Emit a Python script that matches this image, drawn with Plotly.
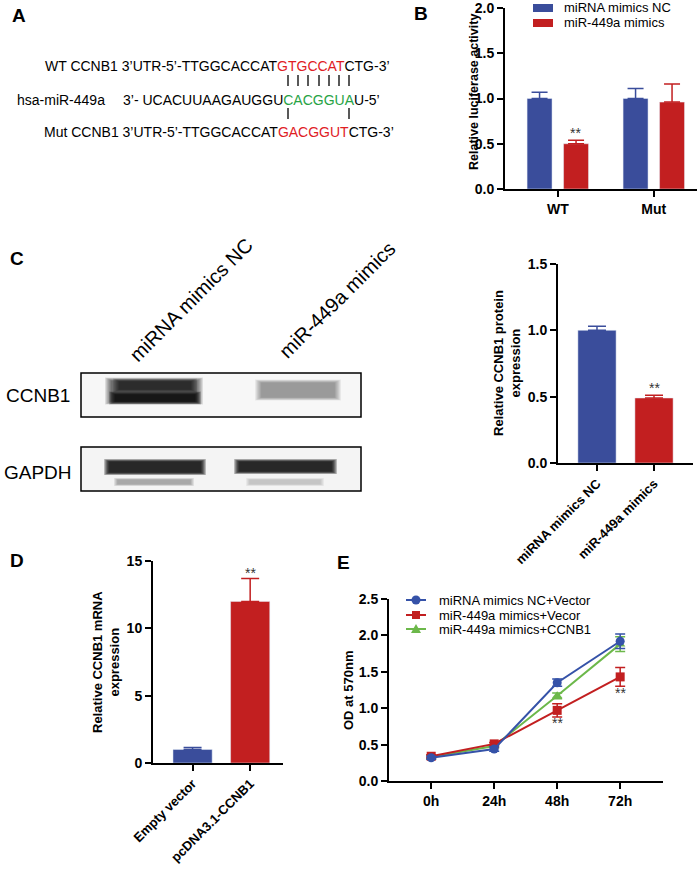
import plotly.graph_objects as go

W, H = 699, 874

# ---- data ----
luc_groups = ["WT", "Mut"]
luc_nc = [1.0, 1.0]
luc_nc_err = [0.07, 0.11]
luc_mimic = [0.50, 0.96]
luc_mimic_err = [0.04, 0.20]

prot_labels = ["miRNA mimics NC", "miR-449a mimics"]
prot_vals = [1.0, 0.49]
prot_err = [0.03, 0.02]

mrna_labels = ["Empty vector", "pcDNA3.1-CCNB1"]
mrna_vals = [1.0, 12.0]
mrna_err = [0.15, 1.7]

time_labels = ["0h", "24h", "48h", "72h"]
od_nc_vector = [0.32, 0.44, 1.35, 1.92]
od_nc_vector_err = [0.02, 0.03, 0.05, 0.10]
od_mimic_vector = [0.34, 0.51, 0.97, 1.43]
od_mimic_vector_err = [0.02, 0.02, 0.09, 0.13]
od_mimic_ccnb1 = [0.33, 0.48, 1.17, 1.88]
od_mimic_ccnb1_err = [0.02, 0.02, 0.04, 0.10]

# western blot band strength per lane (0..1)
ccnb1_band = [0.85, 0.28]
gapdh_band = [1.0, 1.0]

BLUE = "#3a4d9b"
RED = "#c21f20"
GREEN = "#6cb84a"
LBLUE = "#3552a8"
FONT = "Liberation Sans, Arial, sans-serif"


def px(x):
    return x / W


def py(y):
    return 1 - y / H


fig = go.Figure()

# ---- B: luciferase ----
fig.add_trace(go.Bar(x=luc_groups, y=luc_nc, width=0.26, offset=-0.32,
                     marker_color=BLUE, name="miRNA mimics NC", showlegend=False,
                     error_y=dict(type="data", array=luc_nc_err, arrayminus=[0, 0],
                                  symmetric=False, color=BLUE, thickness=1.5, width=8),
                     xaxis="x", yaxis="y"))
fig.add_trace(go.Bar(x=luc_groups, y=luc_mimic, width=0.26, offset=0.06,
                     marker_color=RED, name="miR-449a mimics", showlegend=False,
                     error_y=dict(type="data", array=luc_mimic_err, arrayminus=[0, 0],
                                  symmetric=False, color=RED, thickness=1.5, width=8),
                     xaxis="x", yaxis="y"))

# ---- C: protein ----
for i, c in enumerate([BLUE, RED]):
    fig.add_trace(go.Bar(x=[prot_labels[i]], y=[prot_vals[i]], width=0.67,
                         marker_color=c, showlegend=False,
                         error_y=dict(type="data", array=[prot_err[i]], arrayminus=[0],
                                      symmetric=False, color=c, thickness=1.5, width=9),
                         xaxis="x2", yaxis="y2"))

# ---- D: mRNA ----
for i, c in enumerate([BLUE, RED]):
    fig.add_trace(go.Bar(x=[mrna_labels[i]], y=[mrna_vals[i]], width=0.68,
                         marker_color=c, showlegend=False,
                         error_y=dict(type="data", array=[mrna_err[i]], arrayminus=[0],
                                      symmetric=False, color=c, thickness=1.5, width=9),
                         xaxis="x3", yaxis="y3"))

# ---- E: OD growth ----
lines = [
    (od_mimic_ccnb1, od_mimic_ccnb1_err, GREEN, "triangle-up", "miR-449a mimics+CCNB1"),
    (od_mimic_vector, od_mimic_vector_err, RED, "square", "miR-449a mimics+Vecor"),
    (od_nc_vector, od_nc_vector_err, LBLUE, "circle", "miRNA mimics NC+Vector"),
]
for vals, err, c, sym, nm in lines:
    fig.add_trace(go.Scatter(x=time_labels, y=vals, mode="lines+markers", name=nm,
                             line=dict(color=c, width=2),
                             marker=dict(symbol=sym, size=9, color=c),
                             error_y=dict(type="data", array=err, color=c,
                                          thickness=1.5, width=5),
                             showlegend=False, xaxis="x4", yaxis="y4"))

axis_common = dict(showline=True, linecolor="black", linewidth=2, ticks="outside",
                   ticklen=6, tickwidth=2, tickcolor="black", showgrid=False,
                   zeroline=False, automargin=False, ticklabeloverflow="allow",
                   tickfont=dict(family=FONT, size=14, color="black", weight="bold"))
rot_font = dict(family=FONT, size=13, color="black", weight="bold")

fig.update_layout(
    width=W, height=H, margin=dict(l=0, r=0, t=0, b=0, autoexpand=False),
    paper_bgcolor="white", plot_bgcolor="white", barmode="overlay",
    font=dict(family=FONT, color="black"), showlegend=False,
    xaxis=dict(axis_common, domain=[px(505), px(697)], range=[-0.55, 1.45], anchor="y"),
    yaxis=dict(axis_common, domain=[py(189), py(8)], range=[0, 2.0], dtick=0.5,
               tickformat=".1f", anchor="x"),
    xaxis2=dict(axis_common, domain=[px(558), px(693)], range=[-0.684, 1.684],
                anchor="y2", tickangle=-45, tickfont=rot_font),
    yaxis2=dict(axis_common, domain=[py(463), py(264)], range=[0, 1.5], dtick=0.5,
                tickformat=".1f", anchor="x2"),
    xaxis3=dict(axis_common, domain=[px(153), px(283)], range=[-0.687, 1.57],
                anchor="y3", tickangle=-45, tickfont=rot_font),
    yaxis3=dict(axis_common, domain=[py(763), py(561)], range=[0, 15], dtick=5,
                anchor="x3"),
    xaxis4=dict(axis_common, domain=[px(389), px(663)], range=[-0.67, 3.68],
                anchor="y4"),
    yaxis4=dict(axis_common, domain=[py(781), py(599)], range=[0, 2.5], dtick=0.5,
                tickformat=".1f", anchor="x4"),
)

ann = []
shapes = []


def text(x, y, s, size=13, bold=False, angle=0, xa="center", ya="middle", color="black"):
    ann.append(dict(x=px(x), y=py(y), xref="paper", yref="paper", text=s, showarrow=False,
                    textangle=angle, xanchor=xa, yanchor=ya,
                    font=dict(family=FONT, size=size, color=color,
                              weight="bold" if bold else "normal")))


def pshape(**kw):
    d = dict(xref="paper", yref="paper")
    d.update(kw)
    shapes.append(d)


# panel letters
text(10, 15, "A", 19, True, xa="left")
text(412, 14, "B", 19, True, xa="left")
text(8, 258, "C", 19, True, xa="left")
text(8, 560, "D", 19, True, xa="left")
text(335, 562, "E", 19, True, xa="left")

# panel A sequences
RED_A = "#e0201f"
GREEN_A = "#27a345"
text(43, 66, "WT CCNB1 3’UTR-5’-TTGGCACCAT<span style='color:%s'>GTGCCAT</span>CTG-3’" % RED_A,
     14, xa="left")
text(15, 100, "hsa-miR-449a", 14, xa="left")
text(121, 100, "3’- UCACUUAAGAUGGU<span style='color:%s'>CACGGUA</span>U-5’" % GREEN_A,
     14, xa="left")
text(42, 132, "Mut CCNB1 3’UTR-5’-TTGGCACCAT<span style='color:%s'>GACGGUT</span>CTG-3’" % RED_A,
     14, xa="left")

for xl in [288, 298, 308, 319, 329, 339, 349]:
    pshape(type="line", x0=px(xl), x1=px(xl), y0=py(75), y1=py(86),
           line=dict(color="#222", width=1.5))
for xl in [288, 349]:
    pshape(type="line", x0=px(xl), x1=px(xl), y0=py(108), y1=py(119),
           line=dict(color="#222", width=1.5))

# legend B (drawn by hand for tight row spacing)
for yy, c, nm in [(8, BLUE, "miRNA mimics NC"), (23, RED, "miR-449a mimics")]:
    pshape(type="rect", x0=px(533), x1=px(553), y0=py(yy + 4), y1=py(yy - 4),
           fillcolor=c, line=dict(width=0))
    text(562, yy, nm, 13, xa="left")

# legend E
for yy, c, sym, nm in [(600, LBLUE, "circle", "miRNA mimics NC+Vector"),
                       (615, RED, "square", "miR-449a mimics+Vecor"),
                       (629, GREEN, "triangle", "miR-449a mimics+CCNB1")]:
    pshape(type="line", x0=px(406), x1=px(426), y0=py(yy), y1=py(yy),
           line=dict(color=c, width=2))
    r = 4.5
    if sym == "circle":
        pshape(type="circle", x0=px(416 - r), x1=px(416 + r), y0=py(yy + r), y1=py(yy - r),
               fillcolor=c, line=dict(width=0))
    elif sym == "square":
        pshape(type="rect", x0=px(416 - 4), x1=px(416 + 4), y0=py(yy + 4), y1=py(yy - 4),
               fillcolor=c, line=dict(width=0))
    else:
        pshape(type="path", fillcolor=c, line=dict(width=0),
               path="M %f,%f L %f,%f L %f,%f Z" % (px(411), py(yy + 4), px(421), py(yy + 4),
                                                  px(416), py(yy - 5)))
    text(437, yy, nm, 13, xa="left")

# axis titles
text(474, 92, "Relative luciferase activity", 12.5, True, angle=-90)
text(507, 363, "Relative CCNB1 protein<br>expression", 13, True, angle=-90)
text(106, 662, "Relative CCNB1 mRNA<br>expression", 13, True, angle=-90)
text(348, 691, "OD at 570nm", 13, True, angle=-90)

# significance marks
for xr, yr, xv, yv in [("x", "y", "WT", 0.62), ("x2", "y2", prot_labels[1], 0.565),
                       ("x3", "y3", mrna_labels[1], 14.1), ("x4", "y4", "48h", 0.80),
                       ("x4", "y4", "72h", 1.21)]:
    ann.append(dict(x=xv, y=yv, xref=xr, yref=yr, text="**", showarrow=False,
                    xshift=18 if xr == "x" else 0,
                    font=dict(family=FONT, size=14, color="#333")))

# blot lane labels
text(191, 300, "miRNA mimics NC", 20, angle=-45)
text(337, 300, "miR-449a mimics", 20, angle=-45)
text(38, 395, "CCNB1", 19)
text(38, 472, "GAPDH", 19)


def band(x0, x1, y0, y1, strength, steps=8, blur=7):
    for k in range(steps):
        e = blur * (steps - k) / steps
        pshape(type="rect", x0=px(x0 - e), x1=px(x1 + e), y0=py(y1 + e * 0.5),
               y1=py(y0 - e * 0.5), fillcolor="black",
               opacity=strength * 0.2, line=dict(width=0), layer="below")


# CCNB1 blot
pshape(type="rect", x0=px(81), x1=px(361), y0=py(417), y1=py(373), fillcolor="#f7f7f7",
       line=dict(width=0), layer="below")
band(112, 196, 381, 401, ccnb1_band[0] * 0.55)
band(116, 194, 395, 401, ccnb1_band[0])
band(120, 190, 382, 389, ccnb1_band[0] * 0.6)
band(262, 334, 383, 397, ccnb1_band[1])
# GAPDH blot
pshape(type="rect", x0=px(81), x1=px(361), y0=py(491), y1=py(447), fillcolor="#f4f4f4",
       line=dict(width=0), layer="below")
band(110, 200, 462, 472, gapdh_band[0], blur=6)
band(240, 331, 462, 471, gapdh_band[1], blur=6)
band(118, 190, 480, 484, 0.35, steps=5, blur=4)
band(250, 320, 480, 484, 0.2, steps=5, blur=4)
for y0, y1 in [(373, 417), (447, 491)]:
    pshape(type="rect", x0=px(81), x1=px(361), y0=py(y1), y1=py(y0),
           line=dict(color="black", width=1.5))

fig.update_layout(annotations=ann, shapes=shapes)
fig.write_html("out.html", config={"displayModeBar": False},
               post_script="document.body.style.margin='0';")
